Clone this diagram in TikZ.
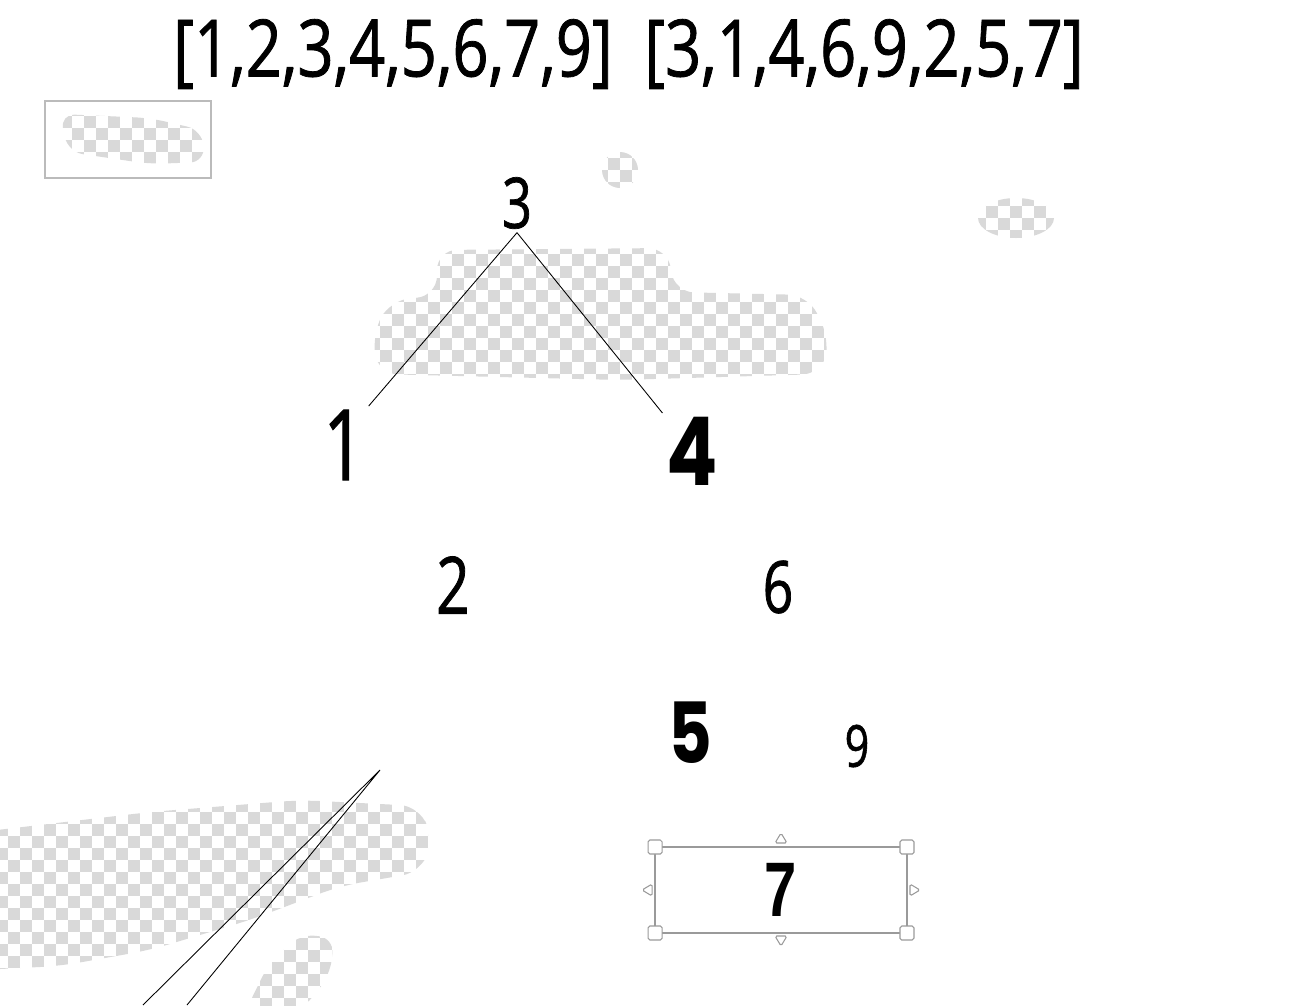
\documentclass[tikz,border=0pt]{standalone}
\usepackage{fontspec}
\usepackage{xcolor}
\usepackage{tikz}
\usetikzlibrary{calc}
\newfontfamily\numfont[FakeStretch=0.74,FakeBold=1]{Open Sans}
\newfontfamily\listfont[FakeStretch=0.8,FakeBold=1]{Open Sans}
\newfontfamily\markfont[FakeStretch=0.8]{Poppins}
\newfontfamily\boxfont[FakeStretch=0.75]{Liberation Sans}
\definecolor{ink}{HTML}{000000}
\definecolor{frame}{HTML}{BBBBBB}
\definecolor{handle}{HTML}{9A9A9A}
\definecolor{check}{HTML}{D9D9D9}
\newcommand{\fsz}[1]{\fontsize{#1}{#1}\selectfont}
\newcommand{\checkfill}[4]{%
  \foreach \ci in {0,...,#3}{\foreach \cj in {0,...,#4}{%
    \fill[check] (#1+24*\ci,#2+24*\cj) rectangle ++(12,12);
    \fill[check] (#1+24*\ci+12,#2+24*\cj+12) rectangle ++(12,12);}}}

\begin{document}
\begin{tikzpicture}[x=0.02cm,y=-0.02cm,
  num/.style={inner sep=2pt,text=ink,font=\numfont},
  boldnum/.style={inner sep=2pt,text=ink,font=\markfont\bfseries},
  edge/.style={draw=ink,line width=0.5pt},
  framebox/.style={draw=frame,line width=1.2pt,minimum width=3.32cm,minimum height=1.54cm},
  selbox/.style={draw=handle,line width=0.8pt,inner sep=0pt,outer sep=0pt,
    minimum width=5.04cm,minimum height=1.72cm,font=\boxfont\bfseries\fsz{44}},
  grip/.style={draw=handle,fill=white,line width=0.6pt,rounded corners=1pt}]
  \useasboundingbox (0,0) rectangle (1311,1005);

  % transparent patches
  \begin{scope}
    \clip[rounded corners=0.3cm] (60,114) -- (150,118) -- (202,130) -- (205,162)
      -- (150,164) -- (68,152) -- cycle;
    \checkfill{48}{104}{6}{3}
  \end{scope}
  \begin{scope}
    \clip (620,170) circle (18);
    \checkfill{596}{146}{2}{2}
  \end{scope}
  \begin{scope}
    \clip (1016,218) ellipse (38 and 20);
    \checkfill{974}{194}{3}{2}
  \end{scope}
  \begin{scope}
    \clip[rounded corners=0.4cm] (437,250) -- (668,248) -- (674,292) -- (808,295)
      -- (830,340) -- (822,374) -- (620,380) -- (378,374) -- (372,335)
      -- (390,300) -- (437,296) -- cycle;
    \checkfill{368}{242}{19}{6}
  \end{scope}
  \begin{scope}
    \clip[rounded corners=0.4cm] (-20,832) -- (150,812) -- (300,800) -- (420,806)
      -- (432,840) -- (422,872) -- (340,886) -- (250,920) -- (150,950)
      -- (60,966) -- (-20,970) -- cycle;
    \checkfill{-16}{788}{19}{8}
  \end{scope}
  \begin{scope}
    \clip[rounded corners=0.3cm] (300,934) -- (334,938) -- (330,975) -- (302,1010)
      -- (246,1010) -- (268,965) -- cycle;
    \checkfill{236}{926}{4}{4}
  \end{scope}

  % traversals
  \node[num,font=\listfont\fsz{45}] (inorder) at (393,54) {[1,2,3,4,5,6,7,9]};
  \node[num,font=\listfont\fsz{45}] (preorder) at (864,54) {[3,1,4,6,9,2,5,7]};

  \node[framebox] (note) at (128,139.5) {};

  % tree
  \node[num,font=\numfont\fsz{40}] (n3) at (517,203) {3};
  \node[num,font=\numfont\fsz{56}] (n1) at (344,445) {1};
  \node[boldnum,font=\markfont\bfseries\fsz{54}] (n4) at (692,451) {4};
  \node[num,font=\numfont\fsz{45}] (n2) at (453,585) {2};
  \node[num,font=\numfont\fsz{41}] (n6) at (778,587) {6};
  \node[boldnum,font=\markfont\bfseries\fsz{48}] (n5) at (690,733) {5};
  \node[num,font=\numfont\fsz{33}] (n9) at (857,746) {9};
  \node[selbox] (n7) at (781,890) {7};

  \draw[edge] (n3.south) -- (n1.north east);
  \draw[edge] (n3.south) -- (n4.north west);

  % selection handles
  \foreach \a in {north west,north east,south west,south east}
    \draw[grip] (n7.\a) ++(-7,-7) rectangle ++(14,14);
  \draw[grip] ($(n7.north)+(-6,-4)$) -- ++(12,0) -- ++(-6,-10) -- cycle;
  \draw[grip] ($(n7.south)+(-6,3)$) -- ++(12,0) -- ++(-6,10) -- cycle;
  \draw[grip] ($(n7.west)+(-3,-6)$) -- ++(0,12) -- ++(-10,-6) -- cycle;
  \draw[grip] ($(n7.east)+(3,-6)$) -- ++(0,12) -- ++(10,-6) -- cycle;

  % stray strokes
  \coordinate (tip) at (380,770);
  \coordinate (foot1) at (143,1005);
  \coordinate (foot2) at (187,1005);
  \draw[edge] (foot1) -- (tip) -- (foot2);
\end{tikzpicture}
\end{document}
